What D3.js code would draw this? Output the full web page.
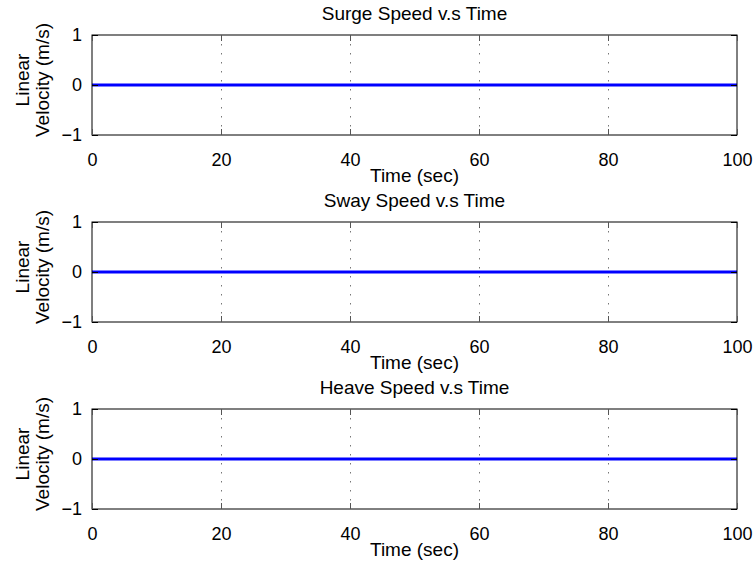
<!DOCTYPE html>
<html>
<head>
<meta charset="utf-8">
<script src="https://cdn.jsdelivr.net/npm/d3@7"></script>
<style>
  body { margin: 0; background: #fff; }
  text { font-family: "Liberation Sans", Arial, sans-serif; }
</style>
</head>
<body>
<div id="canvas"></div>
<script>
const titles = ["Surge Speed v.s Time", "Sway Speed v.s Time", "Heave Speed v.s Time"];
const time = [0, 10, 20, 30, 40, 50, 60, 70, 80, 90, 100];
const surge = [0, 0, 0, 0, 0, 0, 0, 0, 0, 0, 0];
const sway = [0, 0, 0, 0, 0, 0, 0, 0, 0, 0, 0];
const heave = [0, 0, 0, 0, 0, 0, 0, 0, 0, 0, 0];
const xTicks = [0, 20, 40, 60, 80, 100];
const yTicks = [-1, 0, 1];
const seriesList = [surge, sway, heave];

const width = 756;
const height = 568;
const left = 92, right = 737;
const tops = [35, 222, 409];
const ph = 100;
const font = "Liberation Sans, Arial, sans-serif";

const svg = d3.select("#canvas").append("svg")
  .attr("width", width)
  .attr("height", height);

const x = d3.scaleLinear().domain([0, 100]).range([left, right]);

seriesList.forEach((vals, i) => {
  const top = tops[i];
  const y = d3.scaleLinear().domain([-1, 1]).range([top + ph, top]);
  const g = svg.append("g");

  // vertical dotted grid
  g.selectAll("line.grid").data(xTicks.slice(1, -1)).enter().append("line")
    .attr("x1", d => Math.round(x(d)) + 0.5).attr("x2", d => Math.round(x(d)) + 0.5)
    .attr("y1", top).attr("y2", top + ph)
    .attr("stroke", "#777").attr("stroke-width", 1)
    .attr("stroke-dasharray", "1.5,7.5");

  // series line
  const line = d3.line().x((d, j) => x(time[j])).y(d => y(d));
  g.append("path").datum(vals)
    .attr("d", line)
    .attr("fill", "none")
    .attr("stroke", "#0000ff")
    .attr("stroke-width", 3);

  // box
  g.append("rect")
    .attr("x", left).attr("y", top)
    .attr("width", right - left).attr("height", ph)
    .attr("fill", "none").attr("stroke", "#000").attr("stroke-width", 1);

  // x axis ticks (inside) bottom + top
  const xa = d3.axisBottom(x).tickValues(xTicks).tickSize(-6).tickPadding(18);
  const gx = g.append("g").attr("transform", `translate(0,${top + ph})`).call(xa);
  gx.select(".domain").remove();
  gx.selectAll("line").attr("stroke", "#555");
  gx.selectAll("text").attr("font-size", 18).attr("fill", "#000").attr("font-family", font);
  const gxt = g.append("g").attr("transform", `translate(0,${top})`)
    .call(d3.axisTop(x).tickValues(xTicks).tickSize(-6).tickFormat(""));
  gxt.select(".domain").remove();
  gxt.selectAll("line").attr("stroke", "#555");

  // y axis
  const ya = d3.axisLeft(y).tickValues(yTicks).tickSize(-6).tickPadding(10)
    .tickFormat(d => d < 0 ? "\u2212" + Math.abs(d) : d);
  const gy = g.append("g").attr("transform", `translate(${left},0)`).call(ya);
  gy.select(".domain").remove();
  gy.selectAll("text").attr("font-size", 18).attr("fill", "#000").attr("font-family", font);
  const gyr = g.append("g").attr("transform", `translate(${right},0)`)
    .call(d3.axisRight(y).tickValues(yTicks).tickSize(-6).tickFormat(""));
  gyr.select(".domain").remove();

  // title
  g.append("text")
    .attr("x", (left + right) / 2).attr("y", top - 15)
    .attr("text-anchor", "middle").attr("font-size", 19)
    .text(titles[i]);

  // x label
  g.append("text")
    .attr("x", (left + right) / 2).attr("y", top + ph + 47)
    .attr("text-anchor", "middle").attr("font-size", 19)
    .text("Time (sec)");

  // y label (two lines)
  const yl = g.append("text")
    .attr("transform", `translate(29,${top + ph / 2 - 5}) rotate(-90)`)
    .attr("text-anchor", "middle").attr("font-size", 19);
  yl.append("tspan").attr("x", 0).attr("dy", 0).text("Linear");
  yl.append("tspan").attr("x", 0).attr("dy", 20).text("Velocity (m/s)");
});
</script>
</body>
</html>
